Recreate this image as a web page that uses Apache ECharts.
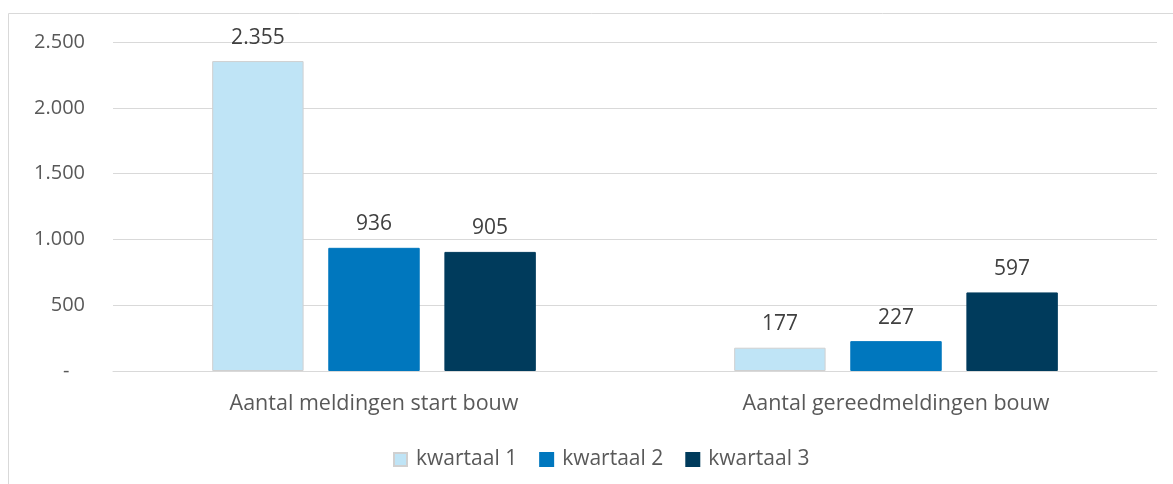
<!DOCTYPE html>
<html>
<head>
<meta charset="utf-8">
<script src="https://cdn.jsdelivr.net/npm/echarts@6/dist/echarts.min.js"></script>
<style>
  html, body { margin: 0; padding: 0; background: #fff; }
  #chart { width: 1173px; height: 484px; }
</style>
</head>
<body>
<div id="chart"></div>
<script>
const categories = ["Aantal meldingen start bouw", "Aantal gereedmeldingen bouw"];
const seriesNames = ["kwartaal 1", "kwartaal 2", "kwartaal 3"];
const kwartaal1 = [2355, 177];
const kwartaal2 = [936, 227];
const kwartaal3 = [905, 597];
const colors = ["#bfe4f6", "#0077be", "#003b5c"];

const fmt = (v) => {
  if (v === 0) return "-   ";
  return String(v).replace(/\B(?=(\d{3})+(?!\d))/g, ".");
};

const chart = echarts.init(document.getElementById("chart"));
const font = "'Open Sans', sans-serif";
const values = [kwartaal1, kwartaal2, kwartaal3];

const option = {
  animation: false,
  textStyle: { fontFamily: font },
  graphic: [
    {
      type: "rect",
      shape: { x: 8.5, y: 13.5, width: 1300, height: 600 },
      style: { fill: "none", stroke: "#d9d9d9", lineWidth: 1 },
      silent: true,
    },
  ],
  grid: { left: 113, right: 16, top: 42, bottom: 113 },
  legend: {
    left: 388,
    top: 444,
    itemWidth: 13,
    itemHeight: 13,
    itemGap: 22,
    icon: "rect",
    textStyle: { fontSize: 21, color: "#595959", fontFamily: font, padding: [0, 0, 0, 4] },
    data: seriesNames,
  },
  xAxis: {
    type: "category",
    data: categories,
    axisLine: { show: true, lineStyle: { color: "#d9d9d9", width: 1 } },
    axisTick: { show: false },
    axisLabel: { fontSize: 21.5, color: "#595959", margin: 22, fontFamily: font },
  },
  yAxis: {
    type: "value",
    min: 0,
    max: 2500,
    interval: 500,
    axisLine: { show: false },
    axisTick: { show: false },
    splitLine: { lineStyle: { color: "#d9d9d9", width: 1 } },
    axisLabel: {
      fontSize: 20,
      color: "#595959",
      margin: 28,
      fontFamily: font,
      formatter: fmt,
    },
  },
  series: seriesNames.map((name, i) => ({
    name,
    type: "bar",
    data: values[i],
    barGap: "27%",
    barCategoryGap: "38%",
    itemStyle: {
      color: colors[i],
      borderColor: i === 0 ? "#d0d0d0" : colors[i],
      borderWidth: 1,
    },
    label: {
      show: true,
      position: "top",
      distance: 13,
      fontSize: 21,
      color: "#404040",
      fontFamily: font,
      formatter: (p) => fmt(p.value),
    },
  })),
};

chart.setOption(option);
</script>
</body>
</html>
